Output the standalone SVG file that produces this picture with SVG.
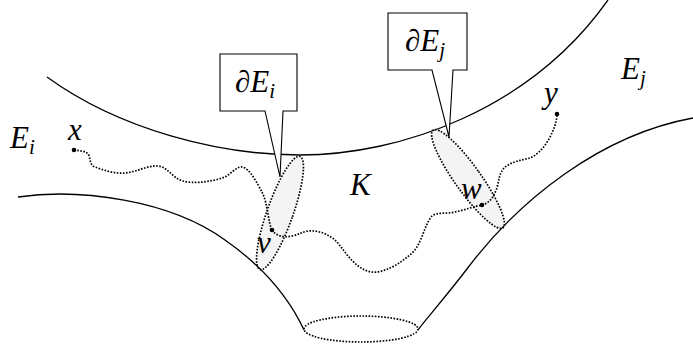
<svg xmlns="http://www.w3.org/2000/svg" width="693" height="346" viewBox="0 0 693 346">
<style>
.curve{fill:none;stroke:#000;stroke-width:1.3}
.dot{fill:none;stroke:#000;stroke-width:1.7;stroke-dasharray:1.6 1.5}
.shade{fill:#f4f4f4;stroke:#000;stroke-width:1.7;stroke-dasharray:1.6 1.5}
.callout{fill:#fff;stroke:#000;stroke-width:1.1}
.lbl{font-family:"Liberation Serif","Times New Roman",serif;font-style:italic;font-size:31px;fill:#000}
.sub{font-size:21px}
.pt{fill:#000}
</style>
<rect width="693" height="346" fill="#fff"/>
<g id="region-K">
<ellipse id="boundary-Ei" class="shade" cx="280" cy="213" rx="13" ry="60" transform="rotate(19.5 280 213)"/>
<ellipse id="boundary-Ej" class="shade" cx="468" cy="179" rx="13" ry="60" transform="rotate(-35.5 468 179)"/>
<path class="curve" d="M47,77 C120,130 220,155 300,155 C400,155 530,110 608,0"/>
<path class="curve" d="M18,197 C80,188 170,200 225,240 C265,268 290,300 304,330"/>
<path class="curve" d="M693,118 C600,135 520,200 470,265 C445,298 425,320 418,330"/>
<ellipse class="dot" cx="361" cy="329" rx="57" ry="13"/>
</g>
<g id="connectors">
<path class="dot" d="M74,150 C80,151 86,151 88,154 C91,158 89,165 95,167 C103,170 115,174 125,173 C137,172 148,165 158,166 C168,167 172,178 183,181 C193,184 210,182 222,178 C230,176 236,166 242,167 C250,168 258,185 262,192 C268,204 268,222 272,230"/>
<path class="dot" d="M272,230 C276,236 284,238 292,236 C298,235 302,232 308,231 C318,230 328,234 335,240 C342,247 348,258 357,265 C363,270 370,273 377,272 C390,270 402,262 412,253 C422,244 424,225 432,216 C437,212 446,214 455,212 C465,210 475,206 482,205"/>
<path class="dot" d="M482,205 C490,203 494,196 497,188 C499,180 499,174 504,168 C510,162 522,160 530,158 C540,154 548,142 552,133 C556,124 557,118 557,114"/>
</g>
<g id="callout-Ei">
<path class="callout" d="M220,54 H297 V111 H283 L280,177 L265,111 H220 Z"/>
<text class="lbl" x="235" y="92">∂E<tspan class="sub" dy="6">i</tspan></text>
</g>
<g id="callout-Ej">
<path class="callout" d="M388,13 H467 V70 H453 L449,137 L432,70 H388 Z"/>
<text class="lbl" x="405" y="51">∂E<tspan class="sub" dy="6">j</tspan></text>
</g>
<g id="node-x"><circle class="pt" cx="74" cy="150" r="2.3"/><text class="lbl" x="68" y="140">x</text></g>
<g id="node-v"><circle class="pt" cx="272" cy="230" r="2.3"/><text class="lbl" x="257" y="253">v</text></g>
<g id="node-w"><circle class="pt" cx="482" cy="205" r="2.3"/><text class="lbl" x="461" y="199">w</text></g>
<g id="node-y"><circle class="pt" cx="557" cy="114" r="2.3"/><text class="lbl" x="544" y="103">y</text></g>
<g id="label-K"><text class="lbl" x="350" y="195">K</text></g>
<g id="label-Ei"><text class="lbl" x="10" y="148">E<tspan class="sub" dy="6">i</tspan></text></g>
<g id="label-Ej"><text class="lbl" x="621" y="79">E<tspan class="sub" dy="6">j</tspan></text></g>
</svg>
